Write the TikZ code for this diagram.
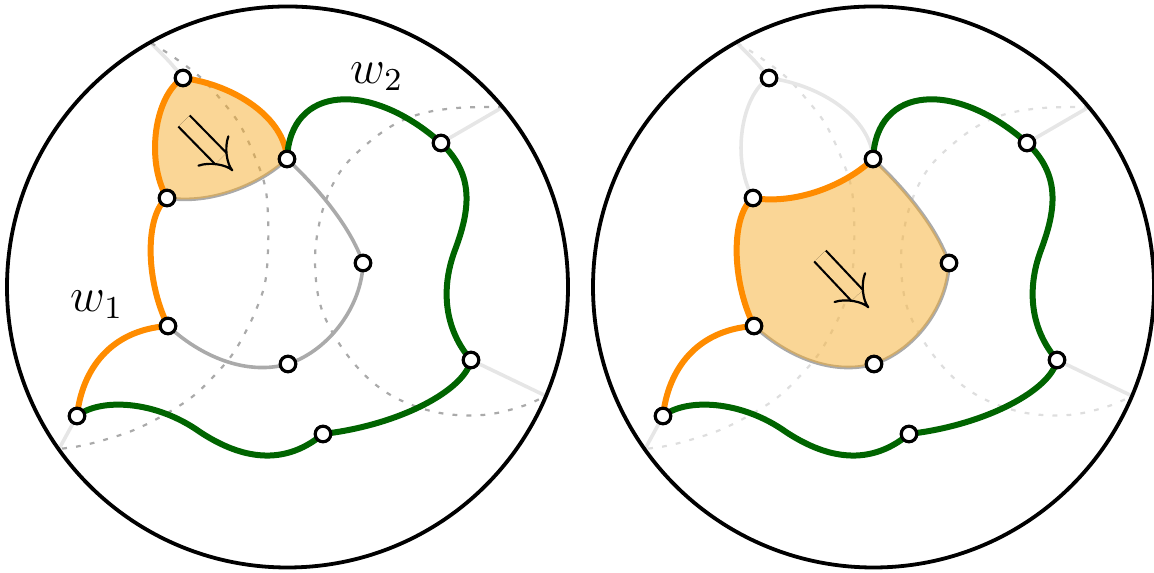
\documentclass[tikz,border=0pt]{standalone}
\usetikzlibrary{arrows.meta}

\definecolor{strandorange}{RGB}{255,140,0}
\definecolor{strandgreen}{RGB}{0,100,0}
\definecolor{edgegray}{RGB}{170,170,170}
\definecolor{faintgray}{RGB}{230,230,230}
\definecolor{dashfaint}{RGB}{222,222,222}
\definecolor{regionfill}{RGB}{245,173,45}
\definecolor{regiontint}{RGB}{250,214,150}

\tikzset{
  disk/.style={draw=black, line width=0.95pt},
  orangeedge/.style={draw=strandorange, line width=1.5pt},
  greenedge/.style={draw=strandgreen, line width=1.5pt},
  grayedge/.style={draw=edgegray, line width=0.9pt},
  faintedge/.style={draw=faintgray, line width=0.9pt},
  dualgray/.style={draw=edgegray, line width=0.55pt, dash pattern=on 1.2pt off 2.3pt},
  dualfaint/.style={draw=dashfaint, line width=0.55pt, dash pattern=on 1.2pt off 2.3pt},
  vtx/.style={circle, draw=black, fill=white, line width=0.8pt,
              minimum size=3.9pt, inner sep=0pt},
  region/.style={fill=regionfill, fill opacity=0.5},
  flowarrow/.style={draw=black, line width=0.55pt, double=regiontint,
                    double distance=3.4pt, -{Implies[scale=1.3]}},
  wlabel/.style={inner sep=0pt, font=\large},
}

% positions of the vertices and of the four ends on the boundary circle
\newcommand\basecoords[1]{%
  \coordinate (#1A) at (183,78);
  \coordinate (#1B) at (287,159);
  \coordinate (#1C) at (167,198);
  \coordinate (#1D) at (363,263);
  \coordinate (#1E) at (168,326);
  \coordinate (#1F) at (288,364);
  \coordinate (#1G) at (77,416);
  \coordinate (#1H) at (323,434);
  \coordinate (#1I) at (471,360);
  \coordinate (#1J) at (441,143);
  \coordinate (#1pA) at (151,43);
  \coordinate (#1pJ) at (503,107);
  \coordinate (#1pI) at (546,396);
  \coordinate (#1pG) at (59,449);
}

% short legs to the boundary and the two dashed arcs
\newcommand\boundarylegs[2]{%
  \draw[faintedge] (#1A) .. controls (170,62) .. (#1pA);
  \draw[faintedge] (#1J) -- (#1pJ);
  \draw[faintedge] (#1I) -- (#1pI);
  \draw[faintedge] (#1G) -- (#1pG);
  \draw[#2] plot[smooth, tension=0.6] coordinates {(#1pA) (172,56) (200,77)
    (222,101) (240,125) (255,157) (265,186) (268,216) (268,250) (265,283)
    (256,310) (245,333) (232,355) (214,376) (192,397) (164,415) (134,430)
    (104,440) (80,446) (#1pG)};
  \draw[#2] plot[smooth, tension=0.6] coordinates {(#1pJ) (457,108) (420,114)
    (390,127) (360,150) (340,172) (326,200) (318,230) (315,260) (318,295)
    (327,322) (345,352) (370,380) (400,400) (440,413) (483,415) (520,407)
    (#1pI)};
}

% the gray chain B - D - F - E
\newcommand\graychain[1]{%
  \draw[grayedge] (#1B) .. controls (315,185) and (350,225) .. (#1D);
  \draw[grayedge] (#1D) .. controls (362,305) and (330,350) .. (#1F);
  \draw[grayedge] (#1F) .. controls (250,375) and (205,360) .. (#1E);
}

% the orange walk C - E - G and the green walk B - J - I - H - G
\newcommand\walks[1]{%
  \draw[orangeedge] (#1C) .. controls (145,215) and (145,280) .. (#1E);
  \draw[orangeedge] (#1E) .. controls (110,330) and (82,370) .. (#1G);
  \draw[greenedge] (#1B) .. controls (290,85) and (370,80) .. (#1J);
  \draw[greenedge] (#1J) .. controls (475,175) and (470,210) .. (455,250)
    .. controls (440,290) and (445,330) .. (#1I);
  \draw[greenedge] (#1I) .. controls (465,390) and (400,425) .. (#1H);
  \draw[greenedge] (#1G) .. controls (100,398) and (155,400) .. (200,432)
    .. controls (235,455) and (280,470) .. (#1H);
}

% boundary circle and the vertex markers
\newcommand\diskandvertices[1]{%
  \draw[disk] (287.5,287) circle [radius=280.5];
  \foreach \v in {A,B,C,D,E,F,G,H,I,J}
    \node[vtx] (#1v\v) at (#1\v) {};
}

\begin{document}
\begin{tikzpicture}[x=0.25pt, y=-0.25pt]
\useasboundingbox (0,0) rectangle (1154,573);

% ---------- left disk: the face A B C ----------
\begin{scope}
  \basecoords{L}
  \boundarylegs{L}{dualgray}
  \graychain{L}
  \draw[grayedge] (LC) .. controls (210,205) and (260,185) .. (LB);
  \fill[region] (LA) .. controls (235,85) and (285,118) .. (LB)
    .. controls (260,185) and (210,205) .. (LC)
    .. controls (145,160) and (155,95) .. (LA) -- cycle;
  \draw[orangeedge] (LA) .. controls (235,85) and (285,118) .. (LB);
  \draw[orangeedge] (LA) .. controls (155,95) and (145,160) .. (LC);
  \walks{L}
  \coordinate (Larrowtail) at (184,121);
  \coordinate (Larrowhead) at (233,171);
  \draw[flowarrow] (Larrowtail) -- (Larrowhead);
  \node[wlabel] (w1) at (97,305) {$w_1$};
  \node[wlabel] (w2) at (377,77) {$w_2$};
  \diskandvertices{L}
\end{scope}

% ---------- right disk: the face C B D F E ----------
\begin{scope}[shift={(586,0)}]
  \basecoords{R}
  \boundarylegs{R}{dualfaint}
  \draw[faintedge] (RA) .. controls (235,85) and (285,118) .. (RB);
  \draw[faintedge] (RA) .. controls (155,95) and (145,160) .. (RC);
  \graychain{R}
  \fill[region] (RC) .. controls (210,205) and (260,185) .. (RB)
    .. controls (315,185) and (350,225) .. (RD)
    .. controls (362,305) and (330,350) .. (RF)
    .. controls (250,375) and (205,360) .. (RE)
    .. controls (145,280) and (145,215) .. (RC) -- cycle;
  \draw[orangeedge] (RC) .. controls (210,205) and (260,185) .. (RB);
  \walks{R}
  \coordinate (Rarrowtail) at (234,256);
  \coordinate (Rarrowhead) at (283,308);
  \draw[flowarrow] (Rarrowtail) -- (Rarrowhead);
  \diskandvertices{R}
\end{scope}
\end{tikzpicture}
\end{document}
